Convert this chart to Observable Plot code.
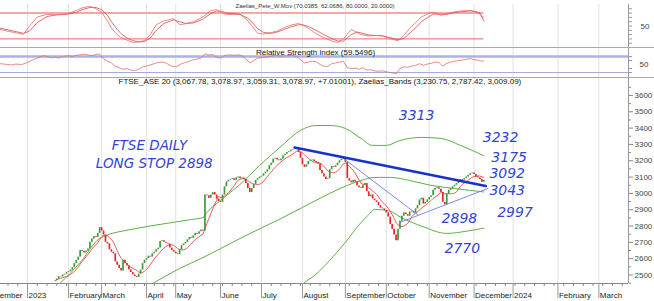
<!DOCTYPE html>
<html><head><meta charset="utf-8">
<script src="https://cdn.jsdelivr.net/npm/d3@7"></script>
<script src="https://cdn.jsdelivr.net/npm/@observablehq/plot@0.6"></script>
<style>
html,body{margin:0;padding:0;background:#fff;}
#chart{position:relative;width:654px;height:301px;overflow:hidden;font-family:"Liberation Sans",Arial,sans-serif;background:#fff;}
#chart svg{position:absolute;left:0;}
.sep{position:absolute;left:0;width:654px;height:0;border-top:1px solid #a8a8a8;}
</style></head><body><div id="chart"></div>
<script>
// ---- x positions are trading-day indexes (0 = first session of January 2023)
const monthIdx   = [-22, 0, 21, 38, 61, 76, 99, 120, 141, 163, 184, 206, 229, 249, 272, 293];
const monthLabel = ["December","2023","February","March","April","May","June","July","August","September","October","November","December","2024","February","March"];

// ---- FTSE/ATHEX Large Cap daily closes, sessions 14..234
const closeStart = 14;
const closes = [2465,2475,2490,2488,2500,2505,2515,2520,2530,2545,2570,2590,2610,2650,2645,2635,2645,2660,2700,2720,
2735,2730,2755,2790,2770,2745,2700,2690,2655,2640,2630,2580,2560,2540,2525,2590,2570,2555,2530,2515,
2500,2490,2485,2505,2530,2570,2590,2600,2615,2610,2630,2640,2655,2665,2705,2710,2700,2695,2690,2665,
2650,2640,2630,2625,2655,2680,2690,2700,2715,2730,2725,2740,2755,2750,2765,2775,2770,2990,2985,2970,
2990,3005,2990,2965,2950,2945,2990,3040,3070,3080,3085,3090,3080,3095,3100,3090,3095,3085,3060,3030,
3005,3030,3055,3080,3090,3100,3105,3120,3130,3145,3170,3185,3210,3215,3205,3200,3210,3230,3240,3250,
3255,3265,3270,3280,3275,3250,3215,3175,3160,3175,3195,3200,3205,3195,3190,3180,3140,3120,3100,3085,
3090,3145,3165,3160,3170,3185,3200,3210,3215,3190,3090,3075,3065,3080,3070,3045,3035,3030,3050,3060,
3010,2980,2990,2965,2955,2945,2925,2910,2905,2895,2880,2855,2810,2780,2745,2710,2780,2830,2860,2880,
2870,2860,2885,2890,2880,2905,2925,2960,2970,2935,2945,2960,2975,2985,3020,3030,3035,3025,3005,2945,
2930,2995,3020,3030,3040,3050,3060,3075,3085,3080,3090,3100,3110,3120,3125,3115,3100,3095,3085,3068,3079];

// ---- Zaelias bands (upper / middle / lower), read at turning points
const upperIdx = [10,14,17,27,37,39,53,68,84,90,92,99,109,119,130,140,148,155,163,171,177,184,191,202,212,222,234];
const upperVal = [2400,2424,2454,2577,2724,2736,2779,2810,2840,2852,2883,2957,3055,3171,3288,3386,3416,3416,3398,3337,3294,3294,3324,3343,3337,3294,3231];
const midIdx = [60,65,78,89,99,114,130,141,155,164,171,178,186,196,207,219,234];
const midVal = [2420,2454,2540,2601,2662,2754,2846,2914,3000,3049,3079,3098,3098,3079,3049,3030,3009];
const lowIdx = [138,141,148,155,163,171,175,178,186,192,202,215,225,234];
const lowVal = [2400,2442,2505,2590,2700,2821,2870,2902,2890,2850,2800,2755,2768,2787];

// ---- trend lines drawn by the analyst
const trendMainIdx = [137, 235], trendMainVal = [3281, 3045];
const trendDownIdx = [162, 200], trendDownVal = [3214, 2870];
const trendUpIdx = [191, 236], trendUpVal = [2822, 3030];

// ---- handwritten notes
const noteText = ["FTSE DAILY", "LONG STOP 2898"];
const noteIdx = [62.6, 65], noteVal = [3294, 3183];
const levelText = ["3313","3232","3175","3092","3043","2997","2898","2770"];
const levelIdx = [199.5, 242.6, 247, 246, 246, 250, 221.5, 223];
const levelVal = [3477, 3343, 3220, 3122, 3018, 2883, 2846, 2662];

// ---- Zaelias_Pete_W.Mov oscillator (two lines)
const stochIdx = [-14,-10,-5,-2,1,5,10,15,20,25,28,32,35,38,41,43,46,48,51,54,57,60,63,66,70,75,78,81,85,90,94,97,100,102,109,113,116,118,121,125,128,131,135,139,141,144,148,152,156,159,162,166,169,171,175,179,182,186,190,193,196,200,202,206,208,212,215,218,222,227,230,232,234];
const stochK = [42,38,33,31,50,71,77,76,78,86,92,96,90,82,62,45,30,23,17,12,13,16,30,53,62,67,53,55,60,71,86,88,80,77,77,62,45,33,31,35,38,45,52,56,52,45,32,23,15,12,20,42,35,30,27,28,27,20,16,28,45,62,71,80,82,75,78,82,85,86,82,77,70];
const stochD = [45,41,36,33,38,58,72,76,77,82,88,93,93,88,75,60,42,32,22,16,13,14,22,40,56,64,60,56,57,66,79,85,84,80,77,68,55,44,35,33,36,41,48,53,53,49,40,30,21,15,15,30,36,34,29,28,27,23,18,21,33,50,60,72,78,77,77,80,83,85,84,80,62];
const stochLevels = [80, 20];

// ---- RSI
const rsiIdx = [-14,-12,-10,-8,-6,-3,0,3,5,8,10,12,14,16,18,21,23,25,27,29,31,33,35,37,39,41,43,45,47,49,51,53,55,57,59,61,63,65,67,69,71,73,75,77,79,81,83,85,87,89,91,93,95,97,99,101,103,106,108,110,112,114,116,118,121,124,127,130,133,136,138,140,142,144,146,148,150,152,154,156,158,160,162,164,166,168,170,172,174,176,178,180,182,184,186,188,189,191,193,195,197,199,201,203,205,207,209,211,213,215,217,219,221,223,225,227,229,231,233,234];
const rsiVal = [52,51,50,49,51,50,55,62,66,72,70,67,68,66,70,72,70,73,74,76,74,72,75,76,64,58,54,46,42,38,40,36,35,38,44,46,49,52,55,56,54,48,44,46,52,55,58,62,64,66,77,74,75,68,66,72,74,73,74,72,64,54,60,66,68,70,73,71,72,73,70,62,54,56,58,57,50,46,45,52,54,56,58,42,40,41,38,42,36,37,34,33,34,32,30,28,26,40,44,43,46,48,52,48,51,53,56,55,46,53,56,58,60,61,63,65,62,61,58,59.5];
const rsiLevels = [70, 30];

// ---- axis ticks
const priceTicks = [2500,2600,2700,2800,2900,3000,3100,3200,3300,3400,3500,3600];
const priceMinor = [2450,2550,2650,2750,2850,2950,3050,3150,3250,3350,3450,3550,3650];

const mainTitle = "FTSE_ASE 20 (3,067.78, 3,078.97, 3,059.31, 3,078.97, +7.01001), Zaelias_Bands (3,230.75, 2,787.42, 3,009.09)";
const oscTitle = "Zaelias_Pete_W.Mov (70.0385, 62.0686, 80.0000, 20.0000)";
const rsiTitle = "Relative Strength index (59.5496)";

// ================= build tables =================
const candles = closes.map((c, k) => ({i: closeStart + k, o: k ? closes[k - 1] : c, c}));
const pts = (xs, ys) => xs.map((x, k) => ({i: x, v: ys[k]}));
const upper = pts(upperIdx, upperVal), mid = pts(midIdx, midVal), low = pts(lowIdx, lowVal);
const stoch = stochIdx.map((x, k) => ({i: x, k: stochK[k], d: stochD[k]}));
const rsi = pts(rsiIdx, rsiVal);
const notes = noteText.map((t, k) => ({t, i: noteIdx[k], v: noteVal[k]}));
const levels = levelText.map((t, k) => ({t, i: levelIdx[k], v: levelVal[k]}));
const lastIdx = closeStart + closes.length - 1;
const weeks = d3.range(-25, 310, 5);

const X = {type: "linear", domain: [-13.85, 308.2], axis: null};
const base = {width: 654, marginLeft: 0, marginRight: 26,
  style: {fontFamily: "'Liberation Sans', Arial, sans-serif", fontSize: "8px", color: "#333", background: "transparent", overflow: "visible"}};
const chart = document.getElementById("chart");
function place(svg, top) { svg.style.top = top + "px"; chart.appendChild(svg); }
const blank = () => "";

// ---- panel 1: oscillator
place(Plot.plot({...base, height: 48, marginTop: 4, marginBottom: 1,
  x: X, y: {domain: [0, 100], axis: null},
  marks: [
    Plot.ruleX(monthIdx, {stroke: "#e2e2e2"}),
    Plot.ruleY([stochLevels[0]], {x1: -13.85, x2: lastIdx, stroke: "#f7a6a6", strokeWidth: 2}),
    Plot.ruleY([stochLevels[1]], {x1: -13.85, x2: lastIdx, stroke: "#e9686a", strokeWidth: 1}),
    Plot.line(stoch, {x: "i", y: "d", stroke: "#d24a4a", strokeWidth: 0.8}),
    Plot.line(stoch, {x: "i", y: "k", stroke: "#ec6b6b", strokeWidth: 0.8}),
    Plot.text([oscTitle], {frameAnchor: "top-left", dx: 235, dy: -1, fontSize: 6, fill: "#333"}),
    Plot.ruleX([308.2], {stroke: "#999"}),
    Plot.axisY({anchor: "right", label: null, ticks: d3.range(10, 100, 10), tickSize: 3, tickFormat: blank, stroke: "#999"}),
    Plot.axisY({anchor: "right", label: null, ticks: [50], tickSize: 0, tickPadding: 12, tickFormat: d => String(d), fontSize: 8, fill: "#444"})
  ]}), 0);

// ---- panel 2: RSI
place(Plot.plot({...base, height: 30, marginTop: 0, marginBottom: 0,
  x: X, y: {domain: [17.5, 92.5], axis: null},
  marks: [
    Plot.ruleX(monthIdx, {stroke: "#e2e2e2"}),
    Plot.ruleY([rsiLevels[0]], {stroke: "#aab2e8", strokeWidth: 2.5}),
    Plot.ruleY([rsiLevels[1]], {stroke: "#a4acdf", strokeWidth: 1}),
    Plot.line(rsi, {x: "i", y: "v", stroke: "#dc7070", strokeWidth: 0.8}),
    Plot.text([rsiTitle], {frameAnchor: "top", dx: 1, dy: 2, fontSize: 8, fill: "#111"}),
    Plot.ruleX([308.2], {stroke: "#999"}),
    Plot.axisY({anchor: "right", label: null, ticks: [30, 40, 60, 70], tickSize: 3, tickFormat: blank, stroke: "#999"}),
    Plot.axisY({anchor: "right", label: null, ticks: [50], tickSize: 0, tickPadding: 11, tickFormat: d => String(d), fontSize: 8, fill: "#444"})
  ]}), 47);

// ---- panel 3: price
const green = "#3d9a3a", red = "#e3262a";
place(Plot.plot({...base, height: 224, marginTop: 0, marginBottom: 18,
  x: X, y: {domain: [2448, 3710], axis: null},
  marks: [
    Plot.ruleX(monthIdx, {stroke: "#e2e2e2"}),
    Plot.line(upper, {x: "i", y: "v", stroke: "#5cb048", strokeWidth: 1, curve: "monotone-x", clip: true}),
    Plot.line(mid, {x: "i", y: "v", stroke: "#5cb048", strokeWidth: 1, curve: "monotone-x", clip: true}),
    Plot.line(low, {x: "i", y: "v", stroke: "#5cb048", strokeWidth: 1, curve: "monotone-x", clip: true}),
    Plot.lineY(candles, Plot.windowY({k: 8, anchor: "end"}, {x: "i", y: "c", stroke: "#e4474a", strokeWidth: 0.9, clip: true})),
    Plot.ruleX(candles, {x: "i", y1: "o", y2: "c", stroke: d => d.c >= d.o ? green : red, strokeWidth: 1.7, clip: true}),
    Plot.line(pts(trendDownIdx, trendDownVal), {x: "i", y: "v", stroke: "#6f7de0", strokeWidth: 0.9}),
    Plot.line(pts(trendUpIdx, trendUpVal), {x: "i", y: "v", stroke: "#6f7de0", strokeWidth: 0.9}),
    Plot.line(pts(trendMainIdx, trendMainVal), {x: "i", y: "v", stroke: "#1633c9", strokeWidth: 2.6}),
    Plot.text(notes, {x: "i", y: "v", text: "t", fill: "#3343d4", fontSize: 13.5, fontStyle: "italic", fontFamily: "'DejaVu Sans', sans-serif", fontWeight: 200}),
    Plot.text(levels, {x: "i", y: "v", text: "t", fill: "#3343d4", fontSize: 14, fontStyle: "italic", fontFamily: "'DejaVu Sans', sans-serif", fontWeight: 200}),
    Plot.text([mainTitle], {frameAnchor: "top-left", dx: 118, dy: 1, fontSize: 8, fill: "#111"}),
    Plot.ruleX([308.2], {stroke: "#999"}),
    Plot.ruleY([2448], {stroke: "#888"}),
    Plot.axisY({anchor: "right", label: null, ticks: priceMinor, tickSize: 2, tickFormat: blank, stroke: "#888"}),
    Plot.axisY({anchor: "right", label: null, ticks: priceTicks, tickSize: 4, tickPadding: 2, tickFormat: d => String(d), fontSize: 8, fill: "#444", stroke: "#888"}),
    Plot.axisX({label: null, ticks: weeks, tickSize: 3, tickFormat: blank, stroke: "#888"}),
    Plot.axisX({label: null, ticks: monthIdx, tickSize: 15, tickFormat: blank, stroke: "#999"}),
    Plot.axisX({label: null, ticks: monthIdx, tickSize: 0, tickPadding: 9, tickFormat: (d, k) => monthLabel[k], textAnchor: "start", dx: 1, fontSize: 8, fill: "#222"})
  ]}), 77);

// panel separators
[47, 77].forEach(y => { const d = document.createElement("div"); d.className = "sep"; d.style.top = y + "px"; chart.appendChild(d); });
</script>
</body></html>
